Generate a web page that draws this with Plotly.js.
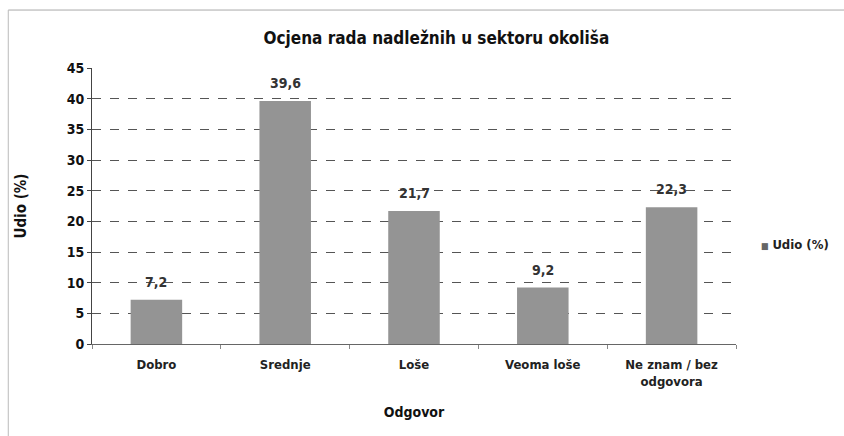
<!DOCTYPE html>
<html>
<head>
<meta charset="utf-8">
<script src="https://cdn.plot.ly/plotly-3.0.1.min.js"></script>
<style>html,body{margin:0;padding:0;background:#fff;}#chart{width:844px;height:436px;}</style>
</head>
<body>
<div id="chart"></div>
<script>
const categories = ["Dobro", "Srednje", "Loše", "Veoma loše", "Ne znam / bez<br>odgovora"];
const values = [7.2, 39.6, 21.7, 9.2, 22.3];
const valueLabels = ["7,2", "39,6", "21,7", "9,2", "22,3"];
const yTicks = [0, 5, 10, 15, 20, 25, 30, 35, 40, 45];
const seriesName = "Udio (%)";

const FONT = "DejaVu Sans Condensed, DejaVu Sans, sans-serif";

const trace = {
  type: "bar",
  x: categories,
  y: values,
  name: seriesName,
  marker: {color: "#949494"},
  showlegend: false
};

const labelAnnotations = categories.map((c, i) => ({
  x: c, y: values[i], xref: "x", yref: "y",
  text: "<b>" + valueLabels[i] + "</b>",
  showarrow: false, yanchor: "bottom", yshift: 8,
  font: {family: FONT, size: 14, color: "#333"}
}));

const layout = {
  width: 844, height: 436,
  margin: {l: 92, r: 108, t: 68, b: 92, autoexpand: false},
  paper_bgcolor: "#fff", plot_bgcolor: "#fff",
  bargap: 0.6,
  title: {text: "<b>Ocjena rada nadležnih u sektoru okoliša</b>", x: 0.517, xanchor: "center", y: 0.913, yanchor: "middle",
          font: {family: FONT, size: 17, color: "#111"}},
  font: {family: FONT, color: "#222"},
  xaxis: {
    tickfont: {family: FONT, size: 13, color: "#222", weight: "bold"},
    ticklabelstandoff: 8,
    title: {text: "<b>Odgovor</b>", font: {family: FONT, size: 14, color: "#111"}, standoff: 19},
    showline: true, linecolor: "#666", linewidth: 1,
    ticks: "outside", tickcolor: "#888", ticklen: 4, tickson: "boundaries",
    showgrid: false
  },
  yaxis: {
    range: [0, 45],
    tickvals: yTicks,
    tickfont: {family: FONT, size: 14, color: "#111", weight: "bold"},
    title: {text: "<b>Udio (%)</b>", font: {family: FONT, size: 15, color: "#111"}, standoff: 36},
    showline: true, linecolor: "#444", linewidth: 1,
    ticks: "outside", tickcolor: "#444", ticklen: 4,
    showgrid: true, gridcolor: "#555", griddash: "dash", gridwidth: 1,
    zeroline: false
  },
  annotations: labelAnnotations.concat([
    {xref: "paper", yref: "paper", x: 1.035, y: 0.362, xanchor: "left", yanchor: "middle",
     text: "<span style='font-size:9px;color:#666'>■</span> <b>" + seriesName + "</b>", showarrow: false,
     font: {family: FONT, size: 13, color: "#222"}}
  ]),
  shapes: [
    {type: "line", xref: "paper", yref: "paper", x0: -0.13, x1: 1.17, y0: 1.21, y1: 1.21, line: {color: "#aaa", width: 1}},
    {type: "line", xref: "paper", yref: "paper", x0: -0.13, x1: -0.13, y0: -0.34, y1: 1.21, line: {color: "#bbb", width: 1}}
  ]
};

Plotly.newPlot("chart", [trace], layout, {displayModeBar: false, staticPlot: true});
</script>
</body>
</html>
